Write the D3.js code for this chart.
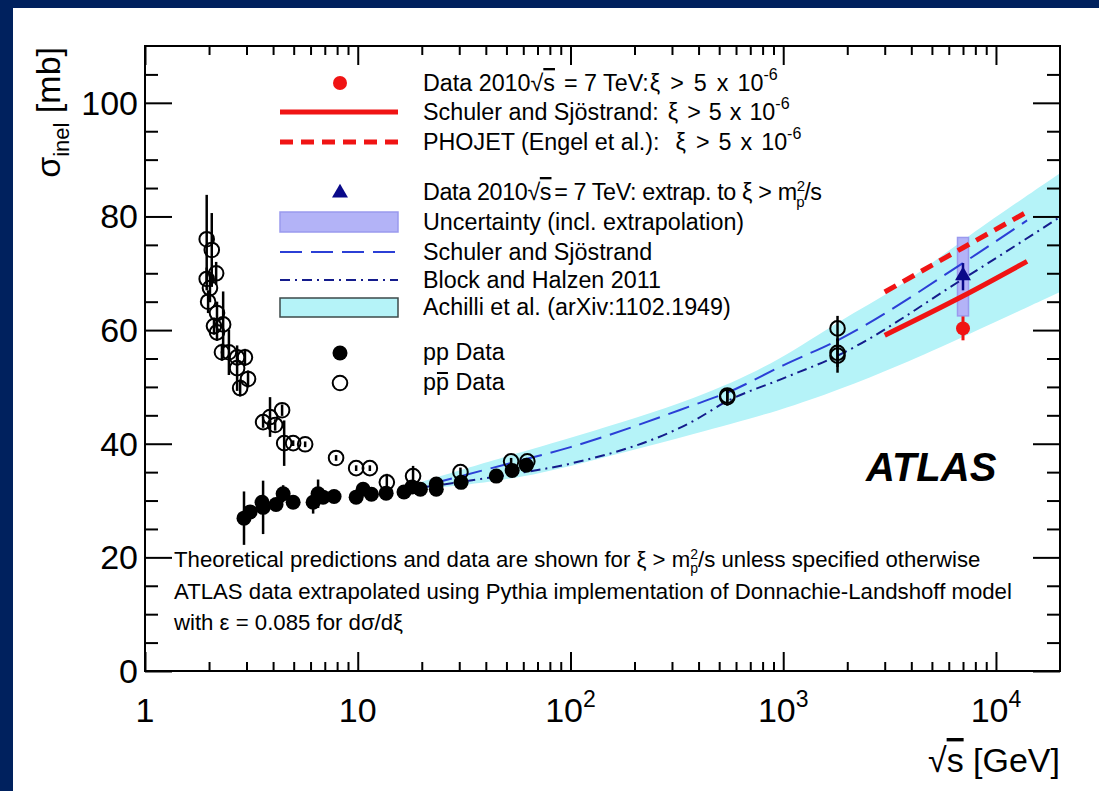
<!DOCTYPE html>
<html>
<head>
<meta charset="utf-8">
<script src="https://cdn.jsdelivr.net/npm/d3@7"></script>
<style>
html, body { margin: 0; padding: 0; background: #fff; }
svg { display: block; font-family: "Liberation Sans", Arial, Helvetica, sans-serif; }
</style>
</head>
<body>
<svg id="chart" width="1099" height="791"></svg>
<script>
// tick values
var xMajor = [1, 10, 100, 1000, 10000];
var xMinor = [2,3,4,5,6,7,8,9, 20,30,40,50,60,70,80,90, 200,300,400,500,600,700,800,900,
              2000,3000,4000,5000,6000,7000,8000,9000];
var yMajor = [0, 20, 40, 60, 80, 100];
var yMinor = [5,10,15,25,30,35,45,50,55,65,70,75,85,90,95,105];

// pbar-p data: [sqrt(s) GeV, sigma mb, error]
var ppbarData = [
  [1.95, 76.0, 7.8], [2.06, 74.1, 6.5], [2.16, 70.0, 2.0], [1.95, 69.0, 2.0],
  [2.02, 67.4, 2.5], [1.98, 65.0, 2.0], [2.18, 63.0, 2.0], [2.11, 60.7, 1.5],
  [2.18, 59.6, 1.5], [2.33, 61.0, 5.8], [2.30, 56.1, 1.5], [2.48, 56.1, 4.0],
  [2.71, 55.2, 1.5], [2.95, 55.2, 1.5], [2.71, 53.3, 4.0], [2.80, 49.8, 1.5],
  [3.05, 51.4, 1.5], [3.59, 43.8, 1.0], [3.87, 44.7, 3.5], [4.09, 43.3, 1.0],
  [4.41, 45.9, 1.0], [4.51, 40.1, 4.0], [4.97, 40.1, 0.5], [5.66, 39.9, 0.5],
  [7.91, 37.5, 0.5], [9.83, 35.7, 0.5], [11.4, 35.7, 0.5], [13.7, 33.2, 1.5],
  [18.2, 34.3, 1.8], [30.4, 35.0, 0.8], [52.6, 36.9, 0.6], [62.7, 36.9, 0.6],
  [546, 48.5, 1.0], [546, 48.2, 1.5], [1800, 60.3, 2.2], [1800, 56.0, 2.5],
  [1800, 55.5, 3.0]
];

// p-p data: [sqrt(s) GeV, sigma mb, error]
var ppData = [
  [2.92, 26.9, 4.7], [3.12, 28.0, 1.0], [3.59, 28.8, 4.7], [3.55, 29.7, 1.0],
  [4.13, 29.3, 1.0], [4.46, 31.2, 1.5], [4.97, 29.7, 0.8], [6.17, 29.7, 2.0],
  [6.51, 31.2, 2.5], [6.87, 30.6, 1.0], [7.74, 30.7, 0.8], [9.83, 30.6, 0.6],
  [10.6, 32.0, 0.6], [11.6, 31.1, 0.6], [13.6, 31.3, 0.6], [16.5, 31.5, 0.6],
  [18.0, 32.4, 0.6], [19.7, 32.0, 0.6], [23.4, 32.9, 0.5], [23.4, 32.0, 0.5],
  [30.6, 33.2, 0.5], [44.8, 34.3, 0.5], [53.2, 35.3, 0.5], [62.0, 36.2, 0.5]
];

// ATLAS 7 TeV
var atlasXi = [7000, 60.3, 2.1];
var atlasExtrap = [7000, 69.4, 2.4];
var atlasExtrapUnc = [62.5, 76.3];

// Schuler-Sjostrand and PHOJET for xi > 5e-6
var ssXiEnergy = [3000, 7000, 14000];
var ssXiSigma = [59.1, 66.0, 72.1];
var phojetEnergy = [3000, 7000, 14000];
var phojetSigma = [66.7, 74.5, 80.8];

// Schuler-Sjostrand full, Block-Halzen
var ssEnergy = [22, 50, 100, 378, 546, 1000, 1800, 7000, 14000];
var ssSigma = [32.9, 36.4, 39.4, 46.8, 49.0, 53.8, 58.2, 71.8, 79.3];
var bhEnergy = [20, 50, 100, 378, 546, 1000, 1800, 7000, 20000];
var bhSigma = [32.3, 34.5, 36.5, 44.0, 47.5, 51.5, 55.5, 69.0, 79.9];

// Achilli et al. band
var achEnergy = [20, 50, 100, 408, 1000, 1800, 3550, 7000, 20000];
var achLow = [32.0, 33.5, 36.0, 42.0, 46.0, 49.4, 53.8, 58.8, 66.7];
var achHigh = [33.3, 37.8, 41.0, 48.0, 55.0, 61.5, 67.5, 76.0, 87.6];

var svg = d3.select("#chart");
var L = 145, R = 1060, T = 46, B = 671;
var RED = "#f01414", NAVY = "#0a0a8a";

// border
svg.append("rect").attr("x", 0).attr("y", 0).attr("width", 1099).attr("height", 791).attr("fill", "#00215e");
svg.append("rect").attr("x", 13).attr("y", 8).attr("width", 1099 - 13).attr("height", 791 - 8).attr("fill", "#fff");

var x = d3.scaleLog().domain([1, 2e4]).range([L, R]);
var y = d3.scaleLinear().domain([0, 110]).range([B, T]);

svg.append("clipPath").attr("id", "plotclip")
  .append("rect").attr("x", L).attr("y", T).attr("width", R - L).attr("height", B - T);

var plot = svg.append("g").attr("clip-path", "url(#plotclip)");

// Achilli band
var band = achEnergy.map(function (e, i) { return { e: e, lo: achLow[i], hi: achHigh[i] }; });
plot.append("path").datum(band)
  .attr("fill", "#b5f3f8")
  .attr("d", d3.area().curve(d3.curveBasis)
    .x(function (d) { return x(d.e); })
    .y0(function (d) { return y(d.lo); })
    .y1(function (d) { return y(d.hi); }));

// uncertainty box for the extrapolated point
var boxW = 11;
plot.append("rect")
  .attr("x", x(atlasExtrap[0]) - boxW / 2).attr("width", boxW)
  .attr("y", y(atlasExtrapUnc[1])).attr("height", y(atlasExtrapUnc[0]) - y(atlasExtrapUnc[1]))
  .attr("fill", "#b3b3f7").attr("stroke", "#9a9aee").attr("stroke-width", 1.5);

function curve(es, ss) {
  return d3.line().curve(d3.curveMonotoneX)
    .x(function (d) { return x(d[0]); })
    .y(function (d) { return y(d[1]); })(es.map(function (e, i) { return [e, ss[i]]; }));
}

plot.append("path").attr("d", curve(ssEnergy, ssSigma))
  .attr("fill", "none").attr("stroke", "#2b3fd6").attr("stroke-width", 2).attr("stroke-dasharray", "22,9");
plot.append("path").attr("d", curve(bhEnergy, bhSigma))
  .attr("fill", "none").attr("stroke", "#141c8c").attr("stroke-width", 2).attr("stroke-dasharray", "10,5,2,5");
plot.append("path").attr("d", curve(ssXiEnergy, ssXiSigma))
  .attr("fill", "none").attr("stroke", RED).attr("stroke-width", 5);
plot.append("path").attr("d", curve(phojetEnergy, phojetSigma))
  .attr("fill", "none").attr("stroke", RED).attr("stroke-width", 5).attr("stroke-dasharray", "13,8");

// data points
function errbar(g, d, col, w) {
  g.append("line").attr("x1", x(d[0])).attr("x2", x(d[0]))
    .attr("y1", y(d[1] - d[2])).attr("y2", y(d[1] + d[2]))
    .attr("stroke", col).attr("stroke-width", w);
}
var pts = plot.append("g");
ppbarData.forEach(function (d) { errbar(pts, d, "#000", 2.5); });
ppData.forEach(function (d) { errbar(pts, d, "#000", 2.5); });
pts.selectAll(".ppbar").data(ppbarData).enter().append("circle")
  .attr("cx", function (d) { return x(d[0]); }).attr("cy", function (d) { return y(d[1]); })
  .attr("r", 7.3).attr("fill", "none").attr("stroke", "#000").attr("stroke-width", 2);
pts.selectAll(".pp").data(ppData).enter().append("circle")
  .attr("cx", function (d) { return x(d[0]); }).attr("cy", function (d) { return y(d[1]); })
  .attr("r", 7.5).attr("fill", "#000");

errbar(pts, atlasXi, RED, 3);
pts.append("circle").attr("cx", x(atlasXi[0])).attr("cy", y(atlasXi[1])).attr("r", 7).attr("fill", RED);
errbar(pts, atlasExtrap, NAVY, 2.5);
pts.append("path").attr("d", d3.symbol(d3.symbolTriangle, 110)())
  .attr("transform", "translate(" + x(atlasExtrap[0]) + "," + (y(atlasExtrap[1]) - 1) + ")")
  .attr("fill", NAVY);

// axes (ticks pointing inward)
function styleAxis(g) {
  g.select(".domain").remove();
  g.selectAll(".tick line").attr("stroke", "#000").attr("stroke-width", 2);
  g.selectAll(".tick text").remove();
}
svg.append("g").attr("transform", "translate(0," + B + ")")
  .call(d3.axisBottom(x).tickValues(xMajor).tickSize(-19)).call(styleAxis);
svg.append("g").attr("transform", "translate(0," + B + ")")
  .call(d3.axisBottom(x).tickValues(xMinor).tickSize(-9)).call(styleAxis);
svg.append("g").attr("transform", "translate(0," + T + ")")
  .call(d3.axisTop(x).tickValues(xMajor).tickSize(-19)).call(styleAxis);
svg.append("g").attr("transform", "translate(0," + T + ")")
  .call(d3.axisTop(x).tickValues(xMinor).tickSize(-9)).call(styleAxis);
svg.append("g").attr("transform", "translate(" + L + ",0)")
  .call(d3.axisLeft(y).tickValues(yMajor).tickSize(-27)).call(styleAxis);
svg.append("g").attr("transform", "translate(" + L + ",0)")
  .call(d3.axisLeft(y).tickValues(yMinor).tickSize(-13)).call(styleAxis);
svg.append("g").attr("transform", "translate(" + R + ",0)")
  .call(d3.axisRight(y).tickValues(yMajor).tickSize(-27)).call(styleAxis);
svg.append("g").attr("transform", "translate(" + R + ",0)")
  .call(d3.axisRight(y).tickValues(yMinor).tickSize(-13)).call(styleAxis);

svg.append("rect").attr("x", L).attr("y", T).attr("width", R - L).attr("height", B - T)
  .attr("fill", "none").attr("stroke", "#000").attr("stroke-width", 2);

// tick labels
xMajor.forEach(function (v) {
  var t = svg.append("text").attr("x", x(v)).attr("y", 722).attr("text-anchor", "middle")
    .attr("font-size", 34).attr("fill", "#000");
  var p = Math.round(Math.log10(v));
  if (p < 2) { t.text(String(v)); }
  else {
    t.append("tspan").text("10");
    t.append("tspan").attr("font-size", 23).attr("dy", -15).text(String(p));
  }
});
yMajor.forEach(function (v) {
  svg.append("text").attr("x", 138).attr("y", y(v) + 12).attr("text-anchor", "end")
    .attr("font-size", 34).attr("fill", "#000").text(String(v));
});

// rich text helper: parts [{t, size, dy, dx, over}]
function rich(px, py, size, parts, anchor) {
  var t = svg.append("text").attr("x", px).attr("y", py).attr("font-size", size).attr("fill", "#000")
    .attr("xml:space", "preserve");
  if (anchor) t.attr("text-anchor", anchor);
  parts.forEach(function (p) {
    var s = t.append("tspan").text(p.t);
    if (p.size) s.attr("font-size", p.size);
    if (p.dy) s.attr("dy", p.dy);
    if (p.dx) s.attr("dx", p.dx);
    if (p.over) s.style("text-decoration", "overline");
  });
  return t;
}

// axis titles
rich(1060, 772, 34, [{ t: "\u221A" }, { t: "s", over: true }, { t: " [GeV]" }], "end");
rich(0, 0, 34, [{ t: "\u03C3" }, { t: "inel", size: 22, dy: 9 }, { t: " [mb]", dy: -9 }], "end")
  .attr("transform", "translate(60,47) rotate(-90)");

// legend
var LX0 = 280, LX1 = 398, LM = 340, LT = 423, FS = 23.3;
var leg = svg.append("g");
leg.append("circle").attr("cx", LM).attr("cy", 83).attr("r", 7).attr("fill", RED);
leg.append("line").attr("x1", LX0).attr("x2", LX1).attr("y1", 112).attr("y2", 112)
  .attr("stroke", RED).attr("stroke-width", 5);
leg.append("line").attr("x1", LX0).attr("x2", LX1).attr("y1", 142).attr("y2", 142)
  .attr("stroke", RED).attr("stroke-width", 5).attr("stroke-dasharray", "13,8");
leg.append("path").attr("d", d3.symbol(d3.symbolTriangle, 110)())
  .attr("transform", "translate(" + LM + ",193)").attr("fill", NAVY);
leg.append("rect").attr("x", LX0).attr("y", 212).attr("width", LX1 - LX0).attr("height", 20)
  .attr("fill", "#b3b3f7").attr("stroke", "#9a9aee").attr("stroke-width", 1.5);
leg.append("line").attr("x1", LX0).attr("x2", LX1).attr("y1", 252).attr("y2", 252)
  .attr("stroke", "#2b3fd6").attr("stroke-width", 2).attr("stroke-dasharray", "22,9");
leg.append("line").attr("x1", LX0).attr("x2", LX1).attr("y1", 280).attr("y2", 280)
  .attr("stroke", "#141c8c").attr("stroke-width", 2).attr("stroke-dasharray", "10,5,2,5");
leg.append("rect").attr("x", LX0).attr("y", 298).attr("width", LX1 - LX0).attr("height", 19)
  .attr("fill", "#b5f3f8").attr("stroke", "#3d4a4a").attr("stroke-width", 1.5);
leg.append("circle").attr("cx", LM).attr("cy", 353).attr("r", 7.5).attr("fill", "#000");
leg.append("circle").attr("cx", LM).attr("cy", 383).attr("r", 7.3).attr("fill", "none")
  .attr("stroke", "#000").attr("stroke-width", 2);

function sup6(gap) {
  return [{ t: "\u03BE", dx: gap[0] }, { t: ">", dx: gap[1] + 5 }, { t: "5", dx: gap[2] + 5 },
    { t: "x", dx: gap[3] + 5 }, { t: "10", dx: gap[4] + 5 }, { t: "-6", size: 16, dy: -11 }];
}
rich(LT, 91, FS, [{ t: "Data 2010" }, { t: "\u221A" }, { t: "s", over: true },
  { t: "=", dx: 9 }, { t: " 7 TeV:" }].concat(sup6([1, 5, 5, 5, 4])));
rich(LT, 120, FS, [{ t: "Schuler and Sj\u00F6strand:" }].concat(sup6([9, 4, 3, 3, 3])));
rich(LT, 150, FS, [{ t: "PHOJET (Engel et al.):" }].concat(sup6([16, 5, 4, 4, 4])));
rich(LT, 200, FS, [{ t: "Data 2010" }, { t: "\u221A" }, { t: "s", over: true },
  { t: "= 7 TeV: extrap. to \u03BE > m", dx: 3 }, { t: "2", size: 15, dy: -9 },
  { t: "p", size: 15, dx: -8.5, dy: 16 }, { t: "/s", dy: -7 }])
  .attr("textLength", 399).attr("lengthAdjust", "spacing");
rich(LT, 230, FS, [{ t: "Uncertainty (incl. extrapolation)" }]);
rich(LT, 260, FS, [{ t: "Schuler and Sj\u00F6strand" }]);
rich(LT, 288, FS, [{ t: "Block and Halzen 2011" }]);
rich(LT, 315, FS, [{ t: "Achilli et al. (arXiv:1102.1949)" }]);
rich(LT, 360, FS, [{ t: "pp Data" }]);
var pbarText = rich(LT, 390, FS, [{ t: "pp Data" }]);
var ext = pbarText.node().getExtentOfChar(1);
leg.append("line").attr("x1", ext.x + 1).attr("x2", ext.x + ext.width - 1)
  .attr("y1", 390 - 17).attr("y2", 390 - 17).attr("stroke", "#000").attr("stroke-width", 2);

// ATLAS label
svg.append("text").attr("x", 866).attr("y", 481).attr("font-size", 40)
  .attr("font-weight", "bold").attr("font-style", "italic").attr("fill", "#000").text("ATLAS");

// notes
var NF = 22.2;
rich(174, 567, NF, [{ t: "Theoretical predictions and data are shown for \u03BE > m" },
  { t: "2", size: 14, dy: -8 }, { t: "p", size: 14, dx: -7.8, dy: 14 },
  { t: "/s unless specified otherwise", dy: -6 }]);
rich(174, 599, NF, [{ t: "ATLAS data extrapolated using Pythia implementation of Donnachie-Landshoff model" }]);
rich(174, 630, NF, [{ t: "with \u03B5 = 0.085 for d\u03C3/d\u03BE" }]);
</script>
</body>
</html>
